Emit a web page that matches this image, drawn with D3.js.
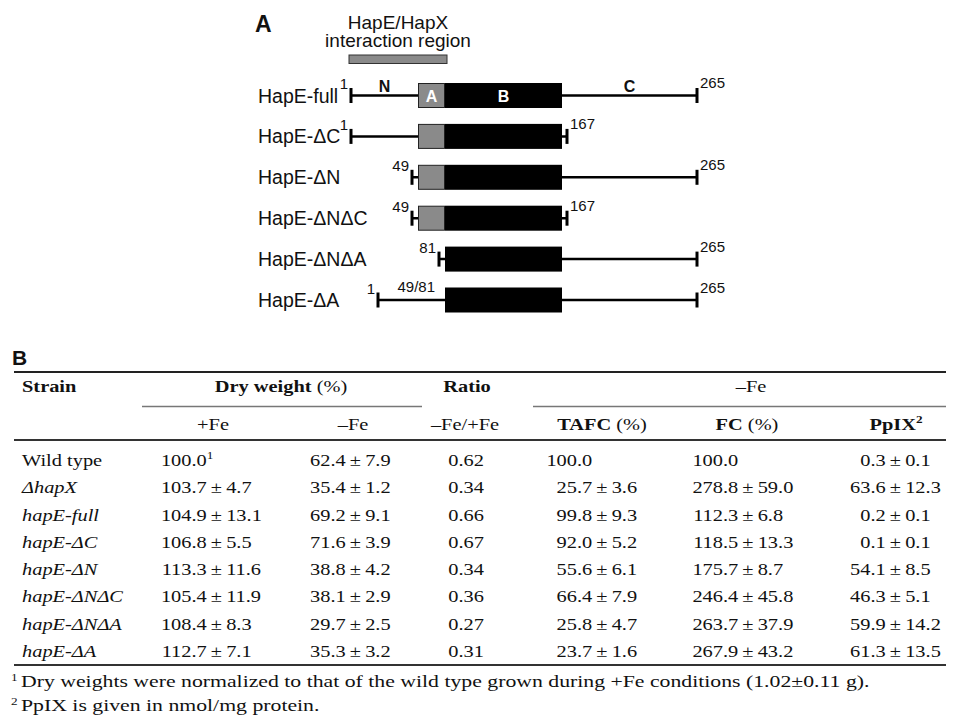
<!DOCTYPE html>
<html>
  <head>
    <meta charset="utf-8">
    <title>HapE constructs and phenotypes</title>
    <script src="https://d3js.org/d3.v7.min.js"></script>
    <style>
      body { margin: 0; background: #fff; }
      svg { display: block; }
      .sans { font-family: "Liberation Sans", Arial, sans-serif; fill: #111; }
      .serif { font-family: "Liberation Serif", "Times New Roman", serif; fill: #111; font-size: 17px; }
    </style>
  </head>
  <body>
    <script>
      // ---- panel A: HapE deletion constructs (residue numbers)
      var constructs     = ["HapE-full", "HapE-\u0394C", "HapE-\u0394N", "HapE-\u0394N\u0394C", "HapE-\u0394N\u0394A", "HapE-\u0394A"];
      var constructStart = [1, 1, 49, 49, 81, 1];
      var constructEnd   = [265, 167, 265, 167, 265, 265];
      var deletions      = [null, null, null, null, null, [49, 81]];
      var landmarks      = [1, 49, 81, 167, 265];
      var domainA        = [49, 81];
      var domainB        = [81, 167];
      var interaction    = [1, 81];

      // ---- panel B: table values
      var strains = ["Wild type", "\u0394hapX", "hapE-full", "hapE-\u0394C", "hapE-\u0394N",
                     "hapE-\u0394N\u0394C", "hapE-\u0394N\u0394A", "hapE-\u0394A"];
      var dryPlusFeMean  = [100.0, 103.7, 104.9, 106.8, 113.3, 105.4, 108.4, 112.7];
      var dryPlusFeSd    = [null, 4.7, 13.1, 5.5, 11.6, 11.9, 8.3, 7.1];
      var dryMinusFeMean = [62.4, 35.4, 69.2, 71.6, 38.8, 38.1, 29.7, 35.3];
      var dryMinusFeSd   = [7.9, 1.2, 9.1, 3.9, 4.2, 2.9, 2.5, 3.2];
      var ratio          = [0.62, 0.34, 0.66, 0.67, 0.34, 0.36, 0.27, 0.31];
      var tafcMean       = [100.0, 25.7, 99.8, 92.0, 55.6, 66.4, 25.8, 23.7];
      var tafcSd         = [null, 3.6, 9.3, 5.2, 6.1, 7.9, 4.7, 1.6];
      var fcMean         = [100.0, 278.8, 112.3, 118.5, 175.7, 246.4, 263.7, 267.9];
      var fcSd           = [null, 59.0, 6.8, 13.3, 8.7, 45.8, 37.9, 43.2];
      var ppixMean       = [0.3, 63.6, 0.2, 0.1, 54.1, 46.3, 59.9, 61.3];
      var ppixSd         = [0.1, 12.3, 0.1, 0.1, 8.5, 5.1, 14.2, 13.5];
      var footnotes = [
        ["1", "Dry weights were normalized to that of the wild type grown during +Fe conditions (1.02\u00b10.11 g)."],
        ["2", "PpIX is given in nmol/mg protein."]
      ];

      var width = 954, height = 722;
      var svg = d3.select("body").append("svg")
        .attr("width", width)
        .attr("height", height);
      svg.append("rect").attr("width", width).attr("height", height).attr("fill", "#fff");

      // ================= panel A =================
      var gA = svg.append("g").attr("class", "sans");
      var x = d3.scaleLinear().domain(landmarks).range([351, 418, 445, 562, 697]);
      var yRow = d3.scalePoint().domain(constructs).range([95.5, 300]);
      var boxH = 25, grey = "#8a8a8a";

      gA.append("text").attr("x", 255).attr("y", 31.5)
        .attr("font-size", 23).attr("font-weight", "bold").text("A");

      var midI = (x(interaction[0]) + x(interaction[1])) / 2;
      gA.append("text").attr("x", midI).attr("y", 28.5).attr("text-anchor", "middle")
        .attr("font-size", 19).text("HapE/HapX");
      gA.append("text").attr("x", midI).attr("y", 46.5).attr("text-anchor", "middle")
        .attr("font-size", 19).text("interaction region");
      gA.append("rect")
        .attr("x", x(interaction[0]) - 2).attr("y", 55)
        .attr("width", x(interaction[1]) - x(interaction[0]) + 4).attr("height", 8.5)
        .attr("fill", grey).attr("stroke", "#333").attr("stroke-width", 1);

      constructs.forEach(function(name, i) {
        var cy = yRow(name), s = constructStart[i], e = constructEnd[i], del = deletions[i];
        var shift = del ? x(del[1]) - x(del[0]) : 0;
        function px(r) { return x(r) + (del && r <= del[0] ? shift : 0); }
        var x0 = px(s) - (s > landmarks[0] ? 6 : 0);
        var x1 = px(e) + (e < landmarks[landmarks.length - 1] ? 5 : 0);
        var g = gA.append("g");

        g.append("text").attr("x", 258).attr("y", cy + 7).attr("font-size", 19.5).text(name);

        g.append("line").attr("x1", x0).attr("x2", x1).attr("y1", cy).attr("y2", cy)
          .attr("stroke", "#000").attr("stroke-width", 2.5);
        [x0, x1].forEach(function(t) {
          g.append("line").attr("x1", t).attr("x2", t).attr("y1", cy - 7.5).attr("y2", cy + 7.5)
            .attr("stroke", "#000").attr("stroke-width", 3);
        });

        var hasA = s <= domainA[0] && e >= domainA[1] && !(del && del[0] <= domainA[0] && del[1] >= domainA[1]);
        var hasB = s <= domainB[0] && e >= domainB[1];
        if (hasB) {
          g.append("rect").attr("x", x(domainB[0])).attr("y", cy - boxH / 2)
            .attr("width", x(domainB[1]) - x(domainB[0])).attr("height", boxH).attr("fill", "#000");
        }
        if (hasA) {
          g.append("rect").attr("x", x(domainA[0]) + 0.5).attr("y", cy - boxH / 2 + 0.5)
            .attr("width", x(domainA[1]) - x(domainA[0]) - 1).attr("height", boxH - 1)
            .attr("fill", grey).attr("stroke", "#222").attr("stroke-width", 1);
        }

        g.append("text").attr("x", x0 - 3).attr("y", cy - 6.5).attr("text-anchor", "end")
          .attr("font-size", 15).text(s);
        if (del) {
          g.append("text").attr("x", x(del[1]) - 10).attr("y", cy - 8).attr("text-anchor", "end")
            .attr("font-size", 15).text(del[0] + "/" + del[1]);
        }
        g.append("text").attr("x", x1 + 3).attr("y", cy - 7.5)
          .attr("font-size", 15).text(e);

        if (i === 0) {
          g.append("text").attr("x", (x0 + x(domainA[0])) / 2).attr("y", cy - 4)
            .attr("text-anchor", "middle").attr("font-size", 16).attr("font-weight", "bold").text("N");
          g.append("text").attr("x", (x(domainB[1]) + x1) / 2).attr("y", cy - 4)
            .attr("text-anchor", "middle").attr("font-size", 16).attr("font-weight", "bold").text("C");
          g.append("text").attr("x", (x(domainA[0]) + x(domainA[1])) / 2).attr("y", cy + 6)
            .attr("text-anchor", "middle").attr("font-size", 16).attr("font-weight", "bold")
            .attr("fill", "#fff").text("A");
          g.append("text").attr("x", (x(domainB[0]) + x(domainB[1])) / 2).attr("y", cy + 6)
            .attr("text-anchor", "middle").attr("font-size", 16).attr("font-weight", "bold")
            .attr("fill", "#fff").text("B");
        }
      });

      // ================= panel B =================
      var stretch = 1.2, noteStretch = 1.28;
      var left = 14, right = 946;
      var gB = svg.append("g").attr("class", "serif");

      svg.append("text").attr("class", "sans").attr("x", 12).attr("y", 365)
        .attr("font-size", 21).attr("font-weight", "bold").text("B");

      function stext(parent, px, py, anchor, k) {
        return parent.append("text")
          .attr("transform", "translate(" + px + "," + py + ") scale(" + (k || stretch) + ",1)")
          .attr("text-anchor", anchor || "start");
      }
      function sup(t, s) {
        t.append("tspan").attr("font-size", 11).attr("dy", -7).text(s);
      }
      function rule(y, x1, x2, w, c) {
        gB.append("line").attr("x1", x1).attr("x2", x2).attr("y1", y).attr("y2", y)
          .attr("stroke", c).attr("stroke-width", w);
      }

      rule(372, left, right, 2, "#222");
      rule(406.5, 142, 422, 1.5, "#777");
      rule(406.5, 533, right, 1.5, "#777");
      rule(440, left, right, 2, "#333");

      // header
      stext(gB, 22, 392).attr("font-weight", "bold").text("Strain");
      var dw = stext(gB, 281, 392, "middle");
      dw.append("tspan").attr("font-weight", "bold").text("Dry weight ");
      dw.append("tspan").text("(%)");
      stext(gB, 467, 392, "middle").attr("font-weight", "bold").text("Ratio");
      stext(gB, 751, 392, "middle").text("\u2013Fe");

      stext(gB, 213, 430, "middle").text("+Fe");
      stext(gB, 353, 430, "middle").text("\u2013Fe");
      stext(gB, 465, 430, "middle").text("\u2013Fe/+Fe");
      var tf = stext(gB, 602, 430, "middle");
      tf.append("tspan").attr("font-weight", "bold").text("TAFC ");
      tf.append("tspan").text("(%)");
      var fc = stext(gB, 747, 430, "middle");
      fc.append("tspan").attr("font-weight", "bold").text("FC ");
      fc.append("tspan").text("(%)");
      var pp = stext(gB, 896, 430, "middle").attr("font-weight", "bold");
      pp.append("tspan").text("PpIX");
      sup(pp, "2");

      // body
      var yStrain = d3.scalePoint().domain(strains).range([466, 657]);
      var columns = [
        { mean: dryPlusFeMean, sd: dryPlusFeSd, dec: 1, x: 191.5 },
        { mean: dryMinusFeMean, sd: dryMinusFeSd, dec: 1, x: 330.5 },
        { mean: ratio, sd: null, dec: 2, x: 458.5 },
        { mean: tafcMean, sd: tafcSd, dec: 1, x: 577 },
        { mean: fcMean, sd: fcSd, dec: 1, x: 723 },
        { mean: ppixMean, sd: ppixSd, dec: 1, x: 870.5 }
      ];

      strains.forEach(function(name, i) {
        var y = yStrain(name);
        var lab = stext(gB, 22, y).text(name);
        if (i > 0) lab.attr("font-style", "italic");

        columns.forEach(function(col, c) {
          var parts = col.mean[i].toFixed(col.dec).split(".");
          stext(gB, col.x, y, "end").text(parts[0]);
          var rest = "." + parts[1];
          if (col.sd && col.sd[i] != null) rest += "\u2009\u00b1\u2009" + col.sd[i].toFixed(1);
          var t = stext(gB, col.x, y).text(rest);
          if (c === 0 && i === 0) sup(t, "1");
        });
      });

      rule(665, left, right, 2, "#333");

      footnotes.forEach(function(f, i) {
        var y = 687 + i * 24;
        var t = stext(gB, 11, y);
        t.append("tspan").attr("font-size", 11).attr("dy", -6).text(f[0]);
        stext(gB, 21, y, "start", noteStretch).text(f[1]);
      });
    </script>
  </body>
</html>
